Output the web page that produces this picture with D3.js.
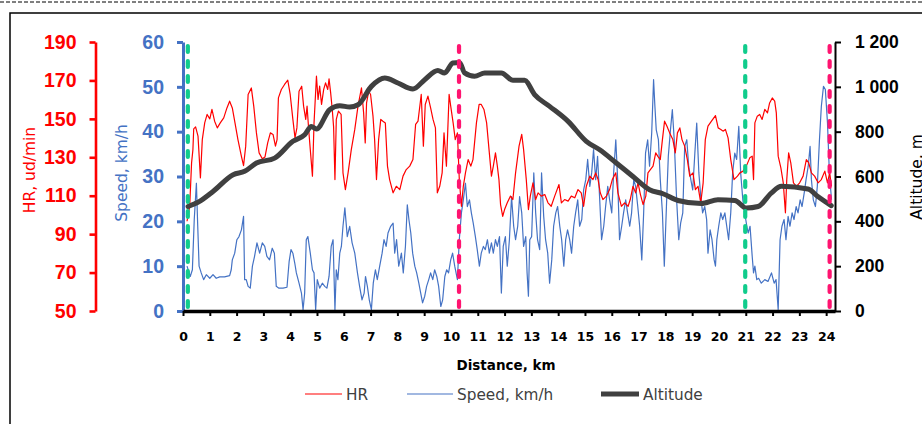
<!DOCTYPE html>
<html>
<head>
<meta charset="utf-8">
<script src="https://cdn.jsdelivr.net/npm/d3@7"></script>
<style>
  body { margin: 0; background: #fff; }
  svg { display: block; }
</style>
</head>
<body>
<svg></svg>
<script>
// HR, ud/min
const hrKm = [0.15,0.25,0.32,0.37,0.40,0.47,0.56,0.65,0.72,0.81,0.90,1.00,1.08,1.18,1.28,1.39,1.52,1.64,1.74,1.84,1.94,2.05,2.18,2.26,2.34,2.43,2.55,2.64,2.74,2.84,2.96,3.06,3.16,3.26,3.36,3.45,3.51,3.56,3.67,3.79,3.91,4.00,4.10,4.18,4.25,4.33,4.43,4.50,4.58,4.63,4.69,4.75,4.83,4.89,4.98,5.04,5.10,5.17,5.25,5.32,5.40,5.45,5.51,5.57,5.62,5.67,5.72,5.80,5.90,5.97,6.06,
  6.16,6.28,6.41,6.53,6.66,6.74,6.80,6.85,6.93,7.00,7.09,7.15,7.22,7.30,7.38,7.46,7.55,7.63,7.71,7.84,7.96,8.09,8.21,8.33,8.46,8.58,8.68,8.77,8.89,8.97,9.04,9.14,9.24,9.33,9.42,9.49,9.58,9.67,9.74,9.83,9.93,9.99,10.08,10.16,10.24,10.31,10.39,10.46,10.54,10.64,10.74,10.82,10.95,11.05,11.13,11.23,11.33,11.42,11.51,11.58,11.66,11.73,11.79,11.85,11.93,12.00,12.10,12.22,
  12.31,12.41,12.54,12.64,12.71,12.81,12.89,12.96,13.06,13.16,13.25,13.37,13.50,13.62,13.74,13.87,14.03,14.12,14.24,14.37,14.49,14.62,14.74,14.86,14.95,15.05,15.18,15.30,15.40,15.49,15.57,15.67,15.80,15.92,16.02,16.15,16.23,16.36,16.48,16.61,16.69,16.79,16.89,16.98,17.07,17.17,17.27,17.35,17.44,17.54,17.64,17.72,17.81,17.89,17.97,18.06,18.16,18.28,18.37,
  18.45,18.54,18.62,18.72,18.82,18.91,19.03,19.12,19.22,19.32,19.41,19.49,19.59,19.72,19.87,19.97,20.07,20.15,20.24,20.34,20.44,20.56,20.69,20.78,20.90,21.02,21.15,21.24,21.29,21.34,21.43,21.52,21.61,21.71,21.81,21.89,21.99,22.08,22.14,22.21,22.31,22.40,22.48,22.53,22.60,22.68,22.78,22.89,23.01,23.14,23.26,23.35,23.45,23.57,23.70,23.82,23.95,24.05,24.13,24.20];
const hrBpm = [96.7,104.5,127.1,134,144.8,145.8,141,119.3,139.2,147.9,152.3,150,154.9,148.8,145.3,147.9,150.5,155.7,159.2,155.7,147.9,139.2,130.5,125.7,135.8,162.7,166.1,156.6,142.7,132.3,129.2,130.2,137.5,142.7,141.9,135.8,139.2,160.9,165.3,167.9,170.1,162.7,149.7,140.1,145.3,164.4,167,156.6,149.7,156.6,144.5,134,120.2,147.9,172.2,160.1,167,157.5,165.3,168.7,165.3,170.8,163.5,154.9,145.8,118.4,149.7,154,152.3,121.9,113.2,
  121.9,134,144.5,156.6,166.1,153.1,137.5,158.3,164.4,162.7,151.4,139.2,118.4,139.2,149.7,148.8,147.9,125.4,118.4,111.5,114.9,113.2,120.2,123.6,125.4,128.8,147.1,148.8,162.7,135.8,157.5,161.8,155.7,149.7,145.3,111.5,114.9,121.9,142.7,125.4,162.7,156.6,147.9,139.2,142.7,118.4,104.5,114.9,121.9,128.8,125.4,128.8,147.9,157.5,157.5,154.9,147.9,134,120.2,125.4,132.3,125.4,118.4,105.4,99.3,102.8,106.3,109.8,
  108,121.9,135.8,141.9,134,118.4,102.8,109.8,116.7,108,111.5,109.8,110.6,106.3,104.5,109.8,115.8,106.3,108,107.2,109.8,108.9,113.2,111.5,104.5,114.9,120.2,118.4,121.9,118.4,111.5,108,109.8,113.2,118.4,121.9,111.5,104.5,106.3,104.5,108,114.9,111.5,116.7,110.6,105.4,109.8,121.9,123.6,125.4,132.3,130.5,128.8,139.2,148.8,146.2,142.7,139.2,132.3,
  142.7,145.3,139.2,135.8,128.8,120.2,121.9,113.2,114.9,106.3,116.7,139.2,146.2,148.8,151.7,145.3,144.5,143.6,144.5,140.1,128.8,118.4,120.2,121.9,122.8,125.4,129.7,130.6,118.4,147.9,151.4,152.3,149.7,154.9,153.1,158.3,160.9,159.2,153.1,130.6,124.5,116.7,101.1,118.4,132.3,127.1,116.7,114.9,116.7,120.2,128.8,127.1,121.9,120.2,116.7,118.4,122.8,116.7,121.9,114.9];

// Speed, km/h
const spKm = [0.15,0.27,0.35,0.42,0.50,0.55,0.60,0.68,0.77,0.87,1.00,1.12,1.24,1.37,1.55,1.74,1.80,1.84,1.93,2.01,2.09,2.18,2.26,2.30,2.36,2.43,2.51,2.59,2.67,2.76,2.86,2.96,3.05,3.13,3.23,3.33,3.41,3.48,3.58,3.73,3.88,3.96,4.03,4.10,4.17,4.23,4.33,4.42,4.48,4.54,4.60,4.66,4.75,4.83,4.89,4.95,5.01,5.10,5.20,5.29,5.37,5.45,5.53,5.60,5.67,5.72,5.78,5.85,5.91,5.97,6.04,
  6.13,6.22,6.31,6.41,6.51,6.59,6.68,6.76,6.81,6.88,6.95,7.03,7.10,7.18,7.25,7.34,7.43,7.50,7.58,7.65,7.75,7.84,7.90,7.97,8.05,8.15,8.22,8.30,8.37,8.43,8.50,8.57,8.65,8.72,8.80,8.87,8.94,9.02,9.09,9.17,9.24,9.32,9.39,9.47,9.54,9.62,9.69,9.77,9.84,9.91,9.99,10.06,10.14,10.24,10.31,10.39,10.46,10.54,10.61,10.69,10.76,10.83,10.91,10.98,11.06,11.13,11.21,11.28,11.36,11.43,11.51,11.58,11.66,11.73,11.81,11.88,11.95,12.03,12.10,12.18,
  12.26,12.34,12.41,12.49,12.56,12.64,12.71,12.79,12.84,12.89,12.94,13.01,13.09,13.16,13.23,13.31,13.38,13.46,13.53,13.61,13.68,13.76,13.83,13.91,13.98,14.06,14.13,14.21,14.28,14.35,14.43,14.50,14.58,14.65,14.73,14.80,14.88,14.95,15.03,15.10,15.18,15.25,15.32,15.40,15.47,15.55,15.62,15.70,15.77,15.85,15.92,16.00,16.07,16.15,16.22,16.29,16.37,16.44,16.52,16.59,16.67,16.74,16.82,16.89,16.97,17.04,17.12,17.19,17.26,17.34,17.41,17.49,17.56,17.61,17.66,17.74,17.81,17.89,17.96,18.04,18.11,18.19,18.26,18.33,
  18.42,18.50,18.57,18.65,18.72,18.80,18.87,18.95,19.02,19.10,19.17,19.25,19.32,19.39,19.47,19.54,19.59,19.67,19.74,19.82,19.87,19.92,19.99,20.07,20.14,20.22,20.29,20.36,20.44,20.51,20.59,20.66,20.74,20.81,20.89,20.96,21.04,21.09,21.16,21.24,21.29,21.34,21.41,21.48,21.58,21.71,21.83,21.96,22.06,22.13,22.21,22.28,22.35,22.43,22.50,22.58,22.65,22.73,22.80,22.88,22.95,23.03,23.10,23.18,23.25,23.33,23.40,23.45,23.52,23.60,23.67,23.75,23.82,23.90,23.97,24.05,24.12,24.20];
const spKmh = [10,7.7,9.2,20.4,28.5,18.9,10,8.5,7,8.1,7.3,8.1,7.3,7.6,7.6,7.9,9.2,11.4,12.9,15.9,16.6,18.1,21.1,7,7,5.5,5.1,10,12.2,15.2,12.9,15.2,14.4,12.2,11.4,14,12.9,5.5,5.1,5.1,5.3,11,13.7,12.9,10.7,8.5,6.2,4,0.3,4,15.9,16.6,12.9,9.2,8.5,0.3,7,5.1,6.2,5.5,5.1,7.7,14.4,15.9,0.3,9.2,7,12.9,14.4,18.9,23,
  16.6,18.9,15.2,12.9,8.5,5.5,2.5,4,7.7,5.5,2.5,0.3,6.2,9.2,7,10,12.9,15.9,14.4,17.4,18.9,19.6,12.9,15.9,10,12.9,8.5,14.4,23.7,20.4,17.4,12.9,10,8.5,6.2,4,1.8,3.3,5.5,7,8.5,7,9.2,7.7,5.5,1,2.5,7.7,9.2,8.5,11.4,12.9,10,7,15.9,21.9,24.8,28.5,23.3,24.8,21.9,19.6,16.6,13.7,10,12.9,14.4,13.7,15.9,12.9,15.2,12.9,15.9,14.4,16.6,4,14.4,16.6,10,15.9,
  25.5,18.9,15.9,18.9,25.5,21.9,14.4,16.6,8.5,3.3,15.9,16.6,30.8,21.9,15.9,13.7,30.8,21.1,15.9,12.9,6.2,11.4,18.9,21.9,23.3,18.9,15.9,10,15.9,18.1,15.9,12.9,18.9,21.9,24.8,18.9,20.4,27,29.3,33.8,27.8,30.8,36,29.3,34.5,24.8,15.9,18.9,23.3,27.8,24.8,21.9,30.8,38.2,29.3,15.9,18.9,21.9,24.8,21.9,18.9,21.9,29.3,27.8,23.3,18.9,11.4,21.9,35.2,38.2,32.3,39.7,51.6,45.6,40.4,38.2,29.3,21.9,10,23.3,34.5,40.4,44.9,38.2,
  24.8,15.9,19.6,21.9,36.7,38.2,32.3,29.3,27,35.2,41.9,30.8,25.5,21.9,23.3,20.4,12.9,18.1,15.9,11.4,10,15.9,18.9,21.9,20.4,21.9,18.9,15.9,21.9,30.8,35.2,33.8,41.2,30.8,24.8,21.9,18.9,17.4,18.9,12.2,8.5,10,7,7.3,6.2,7,6.6,8.5,6.2,7,0.3,15.9,18.9,20.4,15.9,21.1,18.9,21.9,20.4,23.3,21.9,24.8,23.3,26.3,29.3,32.3,36.7,29.3,24.8,23.3,27.8,38.2,45.6,50.1,49.4,41.9,30.8,24.8];

// Altitude, m
const altKm = [0.19,0.62,1.12,1.87,2.3,2.74,3.42,4.1,4.54,4.79,4.98,5.47,5.85,6.22,6.53,7.03,7.53,8.02,8.58,9.02,9.51,9.76,10.07,10.32,10.51,10.88,11.26,11.88,12.31,12.75,13.12,13.68,14.37,15.05,15.55,16.17,16.79,17.41,17.91,18.47,19.34,19.96,20.59,21.02,21.46,21.95,22.33,23.32,23.69,24.19];
const altM = [466,489,533,608,623,660,682,757,786,823,812,898,916,910,920,1002,1039,1017,990,1032,1073,1062,1106,1109,1062,1047,1062,1062,1029,1029,965,913,846,757,719,660,600,541,523,493,479,496,493,459,466,526,556,544,511,470];

// Segment markers (km)
const markerKm = [0.18, 10.3, 20.98, 24.13];
const markerColor = ["#10CC8C", "#FF1470", "#10CC8C", "#FF1470"];

const xTicks = d3.range(0, 25);
const hrTicks = [50, 70, 90, 110, 130, 150, 170, 190];
const spTicks = [0, 10, 20, 30, 40, 50, 60];
const altTicks = [0, 200, 400, 600, 800, 1000, 1200];

const width = 922, height = 424;
const svg = d3.select("svg").attr("width", width).attr("height", height);

const red = "#FF0000", blue = "#4472C4", dark = "#404040";

// Rahmen
svg.append("line")
  .attr("x1", 0).attr("x2", width).attr("y1", 2).attr("y2", 2)
  .attr("stroke", "#000").attr("stroke-width", 1).attr("stroke-dasharray", "4,2");
svg.append("rect")
  .attr("x", 10).attr("y", 13).attr("width", width).attr("height", height)
  .attr("fill", "none").attr("stroke", "#000").attr("stroke-width", 1.5);

const x = d3.scaleLinear().domain([0, 24.33]).range([183, 835]);
const yHr = d3.scaleLinear().domain([50, 190]).range([311, 42]);
const ySp = d3.scaleLinear().domain([0, 60]).range([311, 42]);
const yAlt = d3.scaleLinear().domain([0, 1200]).range([311, 42]);

// Linien
const plot = svg.append("g");

const hrData = hrKm.map((d, i) => [d, hrBpm[i]]);
const spData = spKm.map((d, i) => [d, spKmh[i]]);
const altData = altKm.map((d, i) => [d, altM[i]]);

plot.append("path")
  .datum(spData)
  .attr("fill", "none").attr("stroke", blue).attr("stroke-width", 1.2)
  .attr("stroke-linejoin", "round")
  .attr("d", d3.line().x(d => x(d[0])).y(d => ySp(d[1])));

plot.append("path")
  .datum(hrData)
  .attr("fill", "none").attr("stroke", red).attr("stroke-width", 1.2)
  .attr("stroke-linejoin", "round")
  .attr("d", d3.line().x(d => x(d[0])).y(d => yHr(d[1])));

plot.append("path")
  .datum(altData)
  .attr("fill", "none").attr("stroke", dark).attr("stroke-width", 5)
  .attr("stroke-linejoin", "round").attr("stroke-linecap", "round")
  .attr("d", d3.line().curve(d3.curveMonotoneX).x(d => x(d[0])).y(d => yAlt(d[1])));

// Achsen
function styleAxis(g, color, w, font, size, weight) {
  g.select(".domain").attr("stroke", color).attr("stroke-width", w);
  g.selectAll(".tick line").attr("stroke", color).attr("stroke-width", w);
  g.selectAll(".tick text")
    .attr("fill", color)
    .style("font-family", font)
    .style("font-size", size + "px")
    .style("font-weight", weight);
}

const gHr = svg.append("g").attr("transform", "translate(95.5,0)")
  .call(d3.axisLeft(yHr).tickValues(hrTicks).tickSize(6).tickSizeOuter(0).tickPadding(13));
styleAxis(gHr, red, 2.6, "Liberation Sans", 19.5, "bold");

const gSp = svg.append("g").attr("transform", "translate(183,0)")
  .call(d3.axisLeft(ySp).tickValues(spTicks).tickSize(6).tickSizeOuter(0).tickPadding(13));
styleAxis(gSp, blue, 3, "Liberation Sans", 19.5, "bold");

const altFmt = d => d3.format(",")(d).replace(",", " ");
const gAlt = svg.append("g").attr("transform", "translate(835,0)")
  .call(d3.axisRight(yAlt).tickValues(altTicks).tickFormat(altFmt).tickSize(6).tickSizeOuter(0).tickPadding(14));
styleAxis(gAlt, "#000", 2, "Liberation Sans", 17.5, "bold");

const gX = svg.append("g").attr("transform", "translate(0,311)")
  .call(d3.axisBottom(x).tickValues(xTicks).tickSize(5).tickSizeOuter(0).tickPadding(16));
gX.select(".domain").attr("stroke", "#000").attr("stroke-width", 3.3);
gX.selectAll(".tick line").attr("stroke", "#000").attr("stroke-width", 2);
gX.selectAll(".tick text").attr("fill", "#000")
  .style("font-family", "DejaVu Sans").style("font-size", "12.5px").style("font-weight", "bold");

// Markierungen
svg.append("g").selectAll("line")
  .data(markerKm)
  .join("line")
  .attr("x1", d => x(d)).attr("x2", d => x(d))
  .attr("y1", 46).attr("y2", 312)
  .attr("stroke", (d, i) => markerColor[i])
  .attr("stroke-width", 4.2)
  .attr("stroke-linecap", "round")
  .attr("stroke-dasharray", "6,9");

// Achsentitel
svg.append("text")
  .attr("transform", "translate(35,170) rotate(-90)")
  .attr("text-anchor", "middle").attr("fill", red)
  .style("font-family", "DejaVu Sans").style("font-size", "15.5px")
  .text("HR, ud/min");

svg.append("text")
  .attr("transform", "translate(127,173) rotate(-90)")
  .attr("text-anchor", "middle").attr("fill", blue)
  .style("font-family", "DejaVu Sans").style("font-size", "15.5px")
  .text("Speed, km/h");

svg.append("text")
  .attr("transform", "translate(922,177) rotate(-90)")
  .attr("text-anchor", "middle").attr("fill", "#000")
  .style("font-family", "DejaVu Sans").style("font-size", "15.5px")
  .text("Altitude, m");

svg.append("text")
  .attr("x", 506).attr("y", 370)
  .attr("text-anchor", "middle").attr("fill", "#000")
  .style("font-family", "DejaVu Sans").style("font-size", "13.5px").style("font-weight", "bold")
  .text("Distance, km");

// Legende
const legend = [
  { name: "HR", color: red, w: 1.2, x1: 305, x2: 342 },
  { name: "Speed, km/h", color: blue, w: 1.2, x1: 407, x2: 453 },
  { name: "Altitude", color: dark, w: 5, x1: 601, x2: 639 }
];
const lg = svg.append("g").selectAll("g").data(legend).join("g");
lg.append("line")
  .attr("x1", d => d.x1).attr("x2", d => d.x2)
  .attr("y1", 394).attr("y2", 394)
  .attr("stroke", d => d.color).attr("stroke-width", d => d.w);
lg.append("text")
  .attr("x", d => d.x2 + 4).attr("y", 400)
  .attr("fill", "#404040")
  .style("font-family", "DejaVu Sans").style("font-size", "15.3px")
  .text(d => d.name);
</script>
</body>
</html>
